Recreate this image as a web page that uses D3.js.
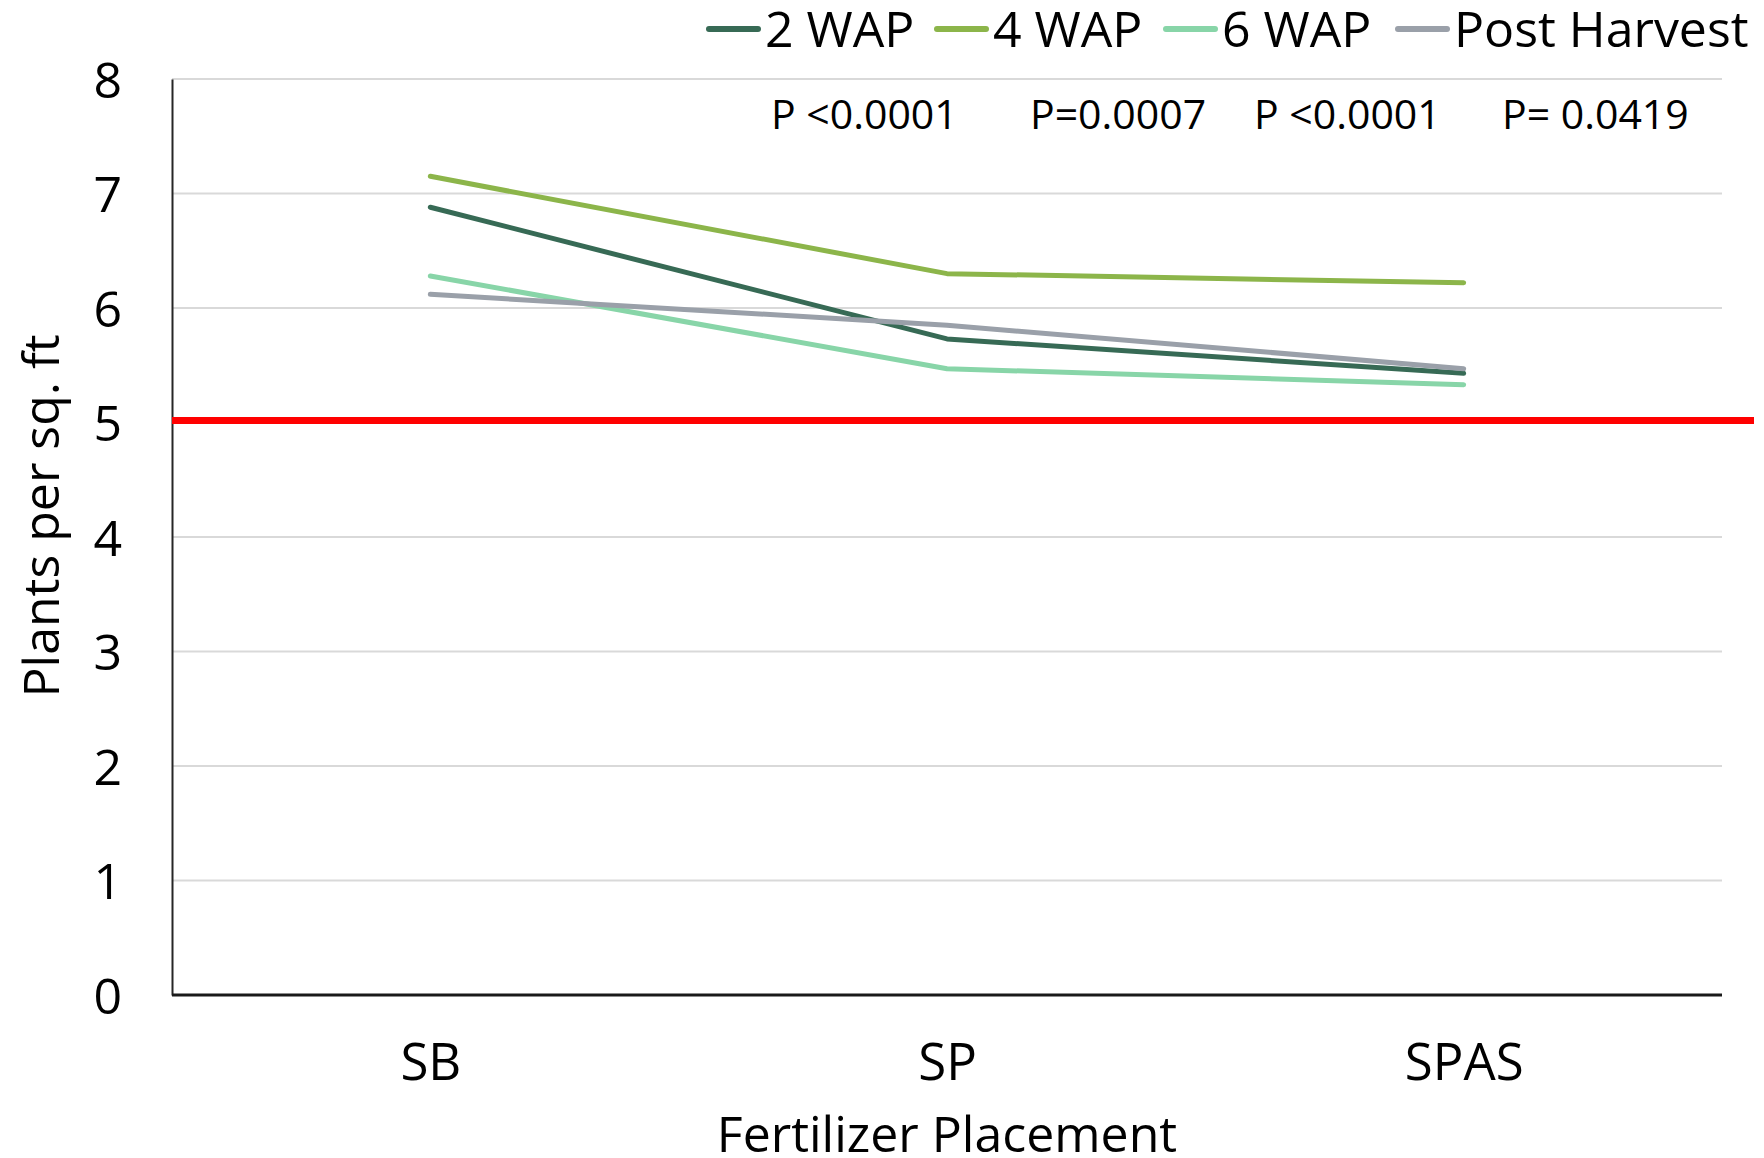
<!DOCTYPE html>
<html>
<head>
<meta charset="utf-8">
<script src="https://cdn.jsdelivr.net/npm/d3@7"></script>
<style>
  html, body { margin: 0; padding: 0; background: #fff; }
  svg { display: block; }
  text { font-family: "Open Sans", "Noto Sans", sans-serif; fill: #000; }
</style>
</head>
<body>
<svg id="chart" width="1764" height="1158"></svg>
<script>
// ---- data ----
const categories = ["SB", "SP", "SPAS"];
const seriesNames = ["2 WAP", "4 WAP", "6 WAP", "Post Harvest"];
const wap2 = [6.88, 5.73, 5.43];
const wap4 = [7.15, 6.30, 6.22];
const wap6 = [6.28, 5.47, 5.33];
const postHarvest = [6.12, 5.85, 5.47];
const seriesColors = ["#376a55", "#8cb54a", "#88d5a8", "#9aa0a9"];
const yTicks = [0, 1, 2, 3, 4, 5, 6, 7, 8];
const threshold = 5;
const pLabels = ["P <0.0001", "P=0.0007", "P <0.0001", "P= 0.0419"];
const xTitle = "Fertilizer Placement";
const yTitle = "Plants per sq. ft";

const seriesValues = [wap2, wap4, wap6, postHarvest];

// ---- layout ----
const plot = { left: 172, right: 1722, top: 79, bottom: 995 };
const svg = d3.select("#chart");

const x = d3.scalePoint().domain(categories).range([plot.left, plot.right]).padding(0.5);
const y = d3.scaleLinear().domain([0, 8]).range([plot.bottom, plot.top]);

// gridlines
svg.append("g").selectAll("line")
  .data(yTicks.filter(d => d > 0))
  .join("line")
  .attr("x1", plot.left).attr("x2", plot.right)
  .attr("y1", d => y(d)).attr("y2", d => y(d))
  .attr("stroke", "#d9d9d9").attr("stroke-width", 2);

// y axis
const yAxis = d3.axisLeft(y).tickValues(yTicks).tickSize(0).tickPadding(50).tickFormat(d3.format("d"));
const gy = svg.append("g").attr("transform", `translate(${plot.left},0)`).call(yAxis);
gy.select(".domain").attr("stroke", "#262626").attr("stroke-width", 2);
gy.selectAll("text").attr("font-size", 50).attr("font-family", "Open Sans").attr("fill", "#000").attr("dy", "0.36em");

// x axis
const xAxis = d3.axisBottom(x).tickSize(0).tickPadding(49);
const gx = svg.append("g").attr("transform", `translate(0,${plot.bottom})`).call(xAxis);
gx.select(".domain").attr("d", `M${plot.left},0H${plot.right}`).attr("stroke", "#1a1a1a").attr("stroke-width", 3);
gx.selectAll("text").attr("font-size", 51).attr("font-family", "Open Sans").attr("fill", "#000").attr("dy", "0.71em");

// threshold line
svg.append("line")
  .attr("x1", plot.left).attr("x2", 1754)
  .attr("y1", y(threshold) - 2).attr("y2", y(threshold) - 2)
  .attr("stroke", "#ff0000").attr("stroke-width", 7);

// series lines
const line = d3.line().x((d, i) => x(categories[i])).y(d => y(d));
svg.append("g").selectAll("path")
  .data(seriesValues)
  .join("path")
  .attr("d", d => line(d))
  .attr("fill", "none")
  .attr("stroke", (d, i) => seriesColors[i])
  .attr("stroke-width", 5)
  .attr("stroke-linecap", "round")
  .attr("stroke-linejoin", "round");

// p-value labels
const pX = [771, 1030, 1254, 1502];
svg.append("g").selectAll("text")
  .data(pLabels)
  .join("text")
  .attr("x", (d, i) => pX[i])
  .attr("y", 129)
  .attr("font-size", 41)
  .text(d => d);

// legend
const legendX = [706, 934, 1163, 1395];
const legend = svg.append("g");
seriesNames.forEach((name, i) => {
  const lx = legendX[i];
  legend.append("line")
    .attr("x1", lx + 3).attr("x2", lx + 52)
    .attr("y1", 29).attr("y2", 29)
    .attr("stroke", seriesColors[i]).attr("stroke-width", 6)
    .attr("stroke-linecap", "round");
  legend.append("text")
    .attr("x", lx + 59).attr("y", 47)
    .attr("font-size", 50)
    .text(name);
});

// axis titles
svg.append("text")
  .attr("x", (plot.left + plot.right) / 2)
  .attr("y", 1152)
  .attr("text-anchor", "middle")
  .attr("font-size", 50)
  .text(xTitle);

svg.append("text")
  .attr("transform", `translate(59,516) rotate(-90)`)
  .attr("text-anchor", "middle")
  .attr("font-size", 50)
  .text(yTitle);
</script>
</body>
</html>
